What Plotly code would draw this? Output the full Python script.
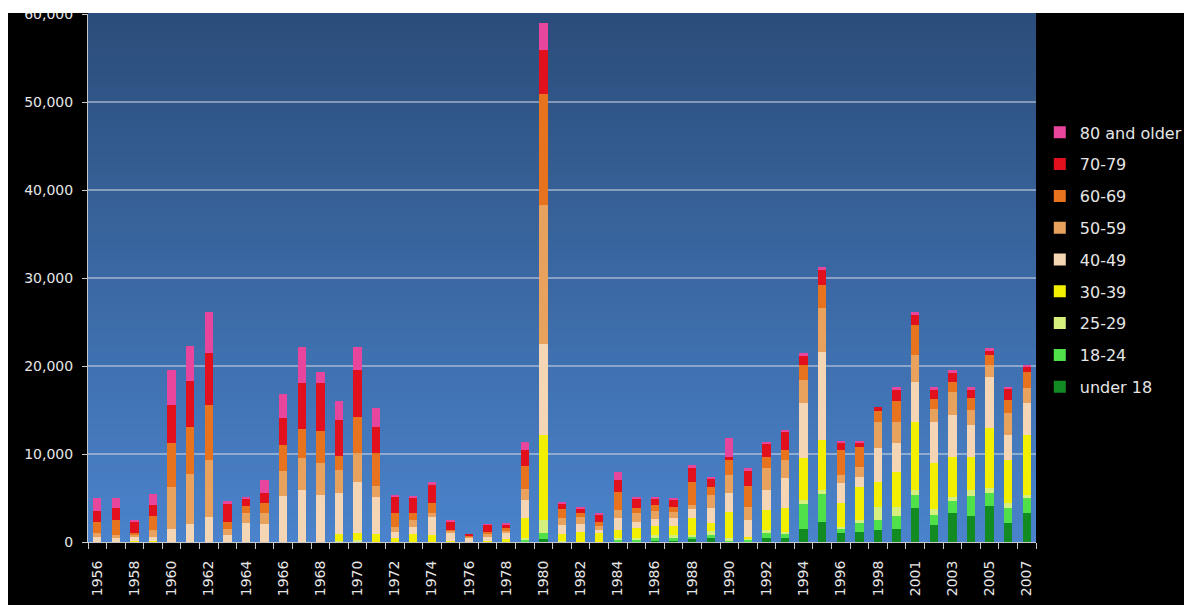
import plotly.graph_objects as go

# Years shown on the category axis (2000 is absent from the series)
years = [
    "1956", "1957", "1958", "1959", "1960", "1961", "1962", "1963", "1964", "1965",
    "1966", "1967", "1968", "1969", "1970", "1971", "1972", "1973", "1974", "1975",
    "1976", "1977", "1978", "1979", "1980", "1981", "1982", "1983", "1984", "1985",
    "1986", "1987", "1988", "1989", "1990", "1991", "1992", "1993", "1994", "1995",
    "1996", "1997", "1998", "1999", "2001", "2002", "2003", "2004", "2005", "2006",
    "2007",
]

age_groups = ["under 18", "18-24", "25-29", "30-39", "40-49",
              "50-59", "60-69", "70-79", "80 and older"]

under_18 = [0] * 23 + [
    100, 300, 0, 0, 0, 100, 100, 150, 150, 300, 400, 50, 100, 500, 400,
    1500, 2310, 990, 1170, 1360, 1500, 3860, 1900, 3260, 2900, 4100, 2120, 3260]

age_18_24 = [0] * 23 + [
    200, 700, 0, 0, 0, 150, 150, 350, 350, 300, 450, 150, 150, 500, 500,
    2800, 3100, 600, 1000, 1140, 1500, 1500, 1200, 1400, 2300, 1500, 1800, 1700]

age_25_29 = [0] * 13 + [100, 200] + [0] * 8 + [
    120, 1500, 160, 0, 0, 170, 170, 280, 280, 200, 400, 200, 150, 360, 270,
    500, 500, 150, 330, 1510, 1000, 540, 600, 500, 710, 500, 480, 400]

age_30_39 = [50, 0, 100, 100] + [0] * 9 + [
    800, 790, 910, 500, 900, 800, 100, 0, 100, 350,
    2270, 9660, 800, 1140, 1000, 940, 1130, 1070, 1000, 1890, 870, 3040, 200, 2280, 2660,
    4740, 5680, 2660, 3790, 2840, 4000, 7770, 5300, 4530, 3780, 6820, 4920, 6800]

age_40_49 = [
    500, 500, 500, 500, 1450, 2050, 2875, 800, 2200, 2045,
    5230, 5900, 5340, 4620, 5860, 4170, 600, 830, 2075, 1000,
    500, 500, 700, 2080, 10340, 930, 860, 400, 1330, 760,
    750, 900, 1110, 1710, 2090, 1900, 2270, 3410, 6250, 10040,
    2300, 1130, 3800, 3230, 4550, 4600, 4740, 3610, 5870, 2840,
    3600]

age_50_59 = [
    500, 300, 200, 800, 4850, 5700, 6440, 640, 1070, 1215,
    2870, 3600, 3600, 2650, 3300, 1280, 640, 760, 455, 150,
    150, 300, 200, 1220, 15800, 885, 800, 450, 950, 950,
    880, 700, 400, 1510, 2080, 1510, 2460, 2080, 2640, 4930,
    910, 1140, 3020, 2460, 3030, 1550, 2650, 1700, 1320, 2460,
    1700]

age_60_69 = [
    1200, 1700, 200, 1500, 4900, 5300, 6250, 860, 830, 1140,
    2920, 3300, 3710, 1590, 4020, 3720, 1520, 760, 1070, 110,
    100, 270, 300, 2650, 12610, 955, 460, 460, 2080, 570,
    720, 640, 2650, 950, 1710, 2350, 1320, 1130, 1710, 2640,
    2840, 2270, 1210, 2330, 3400, 1100, 1135, 1330, 1140, 1520,
    1890]

age_70_79 = [
    1300, 1330, 1300, 1300, 4350, 5200, 5870, 2000, 850, 1130,
    3030, 5220, 5380, 4090, 5330, 3020, 1800, 1700, 2100, 900,
    150, 775, 470, 1810, 5000, 640, 600, 850, 1330, 1100,
    730, 760, 1600, 900, 370, 1700, 1500, 2000, 1000, 1700,
    850, 470, 500, 1230, 1100, 1000, 1030, 1000, 560, 1210,
    630]

age_80_plus = [
    1500, 1130, 200, 1300, 4000, 4050, 4730, 400, 150, 1515,
    2770, 4170, 1320, 2200, 2700, 2090, 280, 280, 350, 240,
    0, 100, 100, 950, 3110, 100, 150, 100, 940, 220,
    220, 180, 300, 230, 2090, 310, 210, 280, 300, 380,
    100, 100, 0, 400, 420, 400, 300, 320, 200, 300,
    130]

series = [under_18, age_18_24, age_25_29, age_30_39, age_40_49,
          age_50_59, age_60_69, age_70_79, age_80_plus]

bar_colors = ["#128c22", "#4fe04a", "#d6f07e", "#f2f000", "#f4d6b4",
              "#e9a25e", "#e8731f", "#e2101c", "#e8469c"]

TEXT = "#e6e6e6"
FONT = "DejaVu Sans"

positions = list(range(len(years)))

fig = go.Figure()
for rank, (name, values, color) in enumerate(zip(age_groups, series, bar_colors)):
    fig.add_trace(go.Bar(
        x=positions,
        y=values,
        name=name,
        legendgroup=name,
        legendrank=100 - rank,          # oldest group listed first
        width=0.45,
        customdata=years,
        hovertemplate="%{customdata}<br>" + name + ": %{y:,}<extra></extra>",
        marker=dict(color=color, line=dict(width=0)),
    ))

# vertical gradient behind the plot area, dark navy at the top to mid blue at the bottom
shapes = []
n_bands = 60
top_rgb = (43, 77, 122)
bottom_rgb = (74, 131, 204)
for k in range(n_bands):
    t = (k + 0.5) / n_bands
    rgb = tuple(round(b + (a - b) * t) for a, b in zip(top_rgb, bottom_rgb))
    shapes.append(dict(
        type="rect", xref="paper", yref="paper", layer="below",
        x0=0, x1=1, y0=k / n_bands, y1=(k + 1) / n_bands + 0.002,
        line=dict(width=0), fillcolor="rgb(%d,%d,%d)" % rgb,
    ))

# white page edge along the top and the left of the chart
shapes.append(dict(type="rect", xref="paper", yref="paper", layer="above",
                   x0=-0.1, x1=1.2, y0=1.0 + 1.0 / 528, y1=1.05,
                   line=dict(width=0), fillcolor="white"))
shapes.append(dict(type="rect", xref="paper", yref="paper", layer="above",
                   x0=-0.1, x1=(8 - 88) / 948, y0=-0.2, y1=1.05,
                   line=dict(width=0), fillcolor="white"))

tick_idx = positions[::2]

fig.update_layout(
    width=1184, height=605,
    margin=dict(l=88, r=148, t=14, b=63, autoexpand=False),
    paper_bgcolor="black",
    plot_bgcolor="rgba(0,0,0,0)",
    barmode="stack",
    bargap=0.5,
    font=dict(family=FONT, color=TEXT),
    shapes=shapes,
    showlegend=True,
    legend=dict(
        x=1.004, xanchor="left", y=0.808, yanchor="top",
        traceorder="grouped", tracegroupgap=8,
        font=dict(family=FONT, size=16, color=TEXT),
        bgcolor="rgba(0,0,0,0)", itemclick=False,
    ),
    xaxis=dict(
        range=[-0.5, len(years) - 0.5],
        tickmode="array",
        tickvals=tick_idx,
        ticktext=[years[i] for i in tick_idx],
        tickangle=-90,
        tickfont=dict(family=FONT, size=14, color=TEXT),
        ticks="",
        ticklabelstandoff=12,
        minor=dict(ticks="outside", tick0=-0.5, dtick=1, ticklen=6,
                   tickcolor="#c8c8c8", tickwidth=1, showgrid=False),
        showgrid=False,
        zeroline=False,
        showline=True, linecolor="#c8c8c8", linewidth=1,
    ),
    yaxis=dict(
        range=[0, 60000],
        tickmode="linear", tick0=0, dtick=10000,
        tickformat=",d",
        tickfont=dict(family=FONT, size=14, color=TEXT),
        ticks="outside", ticklen=5, tickcolor="#c8c8c8",
        ticklabelstandoff=6,
        showgrid=True, gridcolor="rgba(215,220,230,0.5)", gridwidth=1.5,
        zeroline=False,
        showline=True, linecolor="#c8c8c8", linewidth=1,
    ),
)

fig.write_html("out.html")
